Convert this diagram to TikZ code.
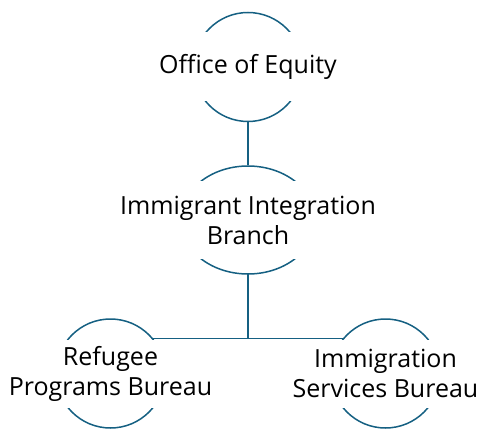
\documentclass[tikz,border=0pt]{standalone}
\usepackage{fontspec}
\setmainfont{Open Sans}
\usetikzlibrary{shapes.geometric,backgrounds,calc}

\begin{document}
\begin{tikzpicture}[x=1bp,y=-1bp,line join=bevel,
  orb/.style={circle,draw=strokecol,fill=white,line width=1.5bp,minimum size=109bp,inner sep=0pt},
  wideorb/.style={ellipse,draw=strokecol,fill=white,line width=1.5bp,minimum width=135bp,minimum height=108bp,inner sep=0pt},
  textbox/.style={fill=white,align=center,inner xsep=4bp,inner ysep=0pt,font=\fontsize{25bp}{30bp}\selectfont},
  edge/.style={draw=strokecol,line width=1.5bp}]
\definecolor{strokecol}{HTML}{156082}
\useasboundingbox (0,0) rectangle (497,440);

% Node: equity
\node [orb] (equity) at (248,67) {};
\node [textbox,minimum height=69bp] (equity-text) at (equity.center) {Office of Equity};

% Node: branch
\node [wideorb] (branch) at (248,220) {};
\node [textbox,minimum height=78bp] (branch-text) at (branch.center) {Immigrant Integration\\Branch};

% Node: refugee
\node [orb] (refugee) at (110.5,373.5) {};
\node [textbox,minimum height=68bp] (refugee-text) at (refugee.center) {Refugee\\Programs Bureau};

% Node: services
\node [orb] (services) at (385.5,373.5) {};
\node [textbox,minimum height=68bp] (services-text) at (services.center) {Immigration\\Services Bureau};

\begin{pgfonlayer}{background}
% Edge: equity -> branch
\draw [edge] (equity) -- (branch);

% Edge: branch -> refugee, services
\coordinate (fork) at ($(branch |- refugee-text.north)+(0,-1)$);
\draw [edge] (branch.center) -- (fork);
\draw [edge] (refugee.center) |- (fork) -| (services.center);
\end{pgfonlayer}
%
\end{tikzpicture}
\end{document}
